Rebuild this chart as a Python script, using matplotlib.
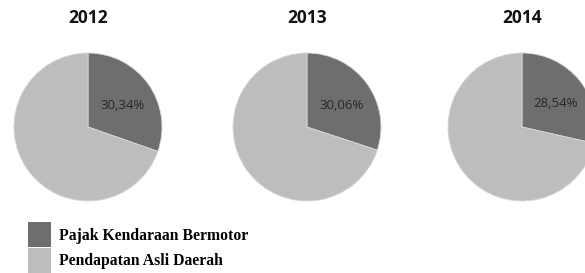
import numpy as np
import matplotlib
matplotlib.use("Agg")
import matplotlib.pyplot as plt
import matplotlib.patches as mpatches

# Data
years = ["2012", "2013", "2014"]
pkb_share = [30.34, 30.06, 28.54]          # Pajak Kendaraan Bermotor (%)
categories = ["Pajak Kendaraan Bermotor", "Pendapatan Asli Daerah"]
colors = ["#6e6e6e", "#bdbdbd"]

W, H = 585, 273
fig = plt.figure(figsize=(W / 100, H / 100), dpi=100)
ax = fig.add_axes([0, 0, 1, 1])

centers_x = [88, 307, 522]
cy = H - 127
radius = 74

for year, share, cx in zip(years, pkb_share, centers_x):
    wedges, _ = ax.pie(
        [share, 100 - share],
        colors=colors,
        startangle=90,
        counterclock=False,
        center=(cx, cy),
        radius=radius,
        wedgeprops=dict(edgecolor="#d8d8d8", linewidth=0.6),
        frame=True,
    )
    w = wedges[0]
    mid = np.deg2rad((w.theta1 + w.theta2) / 2)
    ax.text(cx + 0.58 * radius * np.cos(mid), cy + 0.5 * radius * np.sin(mid),
            f"{share:.2f}%".replace(".", ","),
            ha="center", va="center", fontsize=9.5, color="#262626",
            family="Open Sans")
    ax.text(cx, H - 18, year, ha="center", va="center",
            fontsize=12.5, fontweight="bold", family="Open Sans", color="#111111")

ax.set_xlim(0, W)
ax.set_ylim(0, H)
ax.set_aspect("equal")
ax.axis("off")

handles = [mpatches.Patch(facecolor=c, edgecolor="none") for c in colors]
fig.legend(handles, categories, loc="upper left",
           bbox_to_anchor=(22 / W, 1 - 216 / H),
           frameon=False, handlelength=1.47, handleheight=2.05,
           labelspacing=0.05, handletextpad=0.5, borderaxespad=0,
           prop=dict(family="Liberation Serif", weight="bold", size=11.3))

fig.savefig("out.png", dpi=100)
